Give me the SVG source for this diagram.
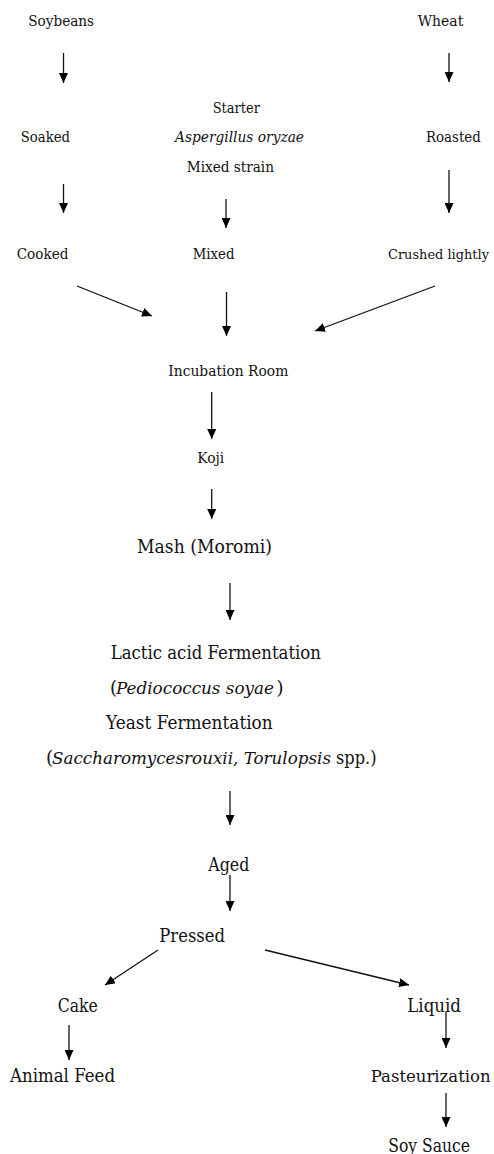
<svg xmlns="http://www.w3.org/2000/svg" width="494" height="1154" viewBox="0 0 494 1154">
<defs>
<marker id="ah" markerUnits="userSpaceOnUse" markerWidth="11" markerHeight="9" refX="10" refY="4.5" orient="auto">
<path d="M0,0 L10,4.5 L0,9 z" fill="#000"/>
</marker>
<style>
text{font-family:"DejaVu Serif","Liberation Serif",serif;fill:#111;text-anchor:start}
.s{font-size:15px}
.l{font-size:18px}
.i{font-style:italic}
.c line{stroke:#111;stroke-width:1.3;marker-end:url(#ah)}
</style>
</defs>
<rect width="494" height="1154" fill="#fff"/>
<g id="soybeans"><text class="s" x="28.3" y="25.5" textLength="65.7" lengthAdjust="spacingAndGlyphs">Soybeans</text></g>
<g id="wheat"><text class="s" x="417.7" y="25.5" textLength="45.6" lengthAdjust="spacingAndGlyphs">Wheat</text></g>
<g id="starter"><text class="s" x="212.7" y="112.5" textLength="47.3" lengthAdjust="spacingAndGlyphs">Starter</text>
<text class="s i" x="175" y="141.5" textLength="129" lengthAdjust="spacingAndGlyphs">Aspergillus oryzae</text>
<text class="s" x="186.7" y="171.5" textLength="87.3" lengthAdjust="spacingAndGlyphs">Mixed strain</text></g>
<g id="soaked"><text class="s" x="20.7" y="141.5" textLength="49.3" lengthAdjust="spacingAndGlyphs">Soaked</text></g>
<g id="roasted"><text class="s" x="426" y="141.5" textLength="54.7" lengthAdjust="spacingAndGlyphs">Roasted</text></g>
<g id="cooked"><text class="s" x="16.7" y="259.3" textLength="51.7" lengthAdjust="spacingAndGlyphs">Cooked</text></g>
<g id="mixed"><text class="s" x="192.7" y="259.3" textLength="41.7" lengthAdjust="spacingAndGlyphs">Mixed</text></g>
<g id="crushed"><text x="388" y="259.3" font-size="13" textLength="101" lengthAdjust="spacingAndGlyphs">Crushed lightly</text></g>
<g id="incubation"><text class="s" x="168.3" y="376" textLength="120" lengthAdjust="spacingAndGlyphs">Incubation Room</text></g>
<g id="koji"><text class="s" x="197.3" y="462.7" textLength="27" lengthAdjust="spacingAndGlyphs">Koji</text></g>
<g id="mash"><text class="l" x="137" y="553" textLength="135" lengthAdjust="spacingAndGlyphs">Mash (Moromi)</text></g>
<g id="fermentation">
<text class="l" x="110.7" y="659" textLength="210.3" lengthAdjust="spacingAndGlyphs">Lactic acid Fermentation</text>
<text class="l" x="110" y="694">(</text>
<text class="i" x="116" y="694" font-size="16" textLength="158" lengthAdjust="spacingAndGlyphs">Pediococcus soyae</text>
<text class="l" x="276.5" y="694">)</text>
<text class="l" x="106" y="729" textLength="166.7" lengthAdjust="spacingAndGlyphs">Yeast Fermentation</text>
<text class="l" x="46" y="763.5">(</text>
<text class="i" x="52" y="763.5" font-size="16" textLength="279" lengthAdjust="spacingAndGlyphs">Saccharomycesrouxii, Torulopsis</text>
<text class="l" x="336" y="763.5" textLength="40.5" lengthAdjust="spacingAndGlyphs">spp.)</text>
</g>
<g id="aged"><text class="l" x="208.3" y="871" textLength="41" lengthAdjust="spacingAndGlyphs">Aged</text></g>
<g id="pressed"><text class="l" x="159.3" y="941.5" textLength="65.7" lengthAdjust="spacingAndGlyphs">Pressed</text></g>
<g id="cake"><text class="l" x="57.7" y="1011.7" textLength="40" lengthAdjust="spacingAndGlyphs">Cake</text></g>
<g id="liquid"><text class="l" x="407.3" y="1011.7" textLength="53.7" lengthAdjust="spacingAndGlyphs">Liquid</text></g>
<g id="animalfeed"><text class="l" x="10" y="1081.7" textLength="105" lengthAdjust="spacingAndGlyphs">Animal Feed</text></g>
<g id="pasteurization"><text x="370.7" y="1081.7" font-size="16.5" textLength="120" lengthAdjust="spacingAndGlyphs">Pasteurization</text></g>
<g id="soysauce"><text class="l" x="388.3" y="1152" textLength="81.7" lengthAdjust="spacingAndGlyphs">Soy Sauce</text></g>
<g id="connectors" class="c">
<line x1="63.5" y1="53" x2="63.5" y2="83"/>
<line x1="449" y1="53" x2="449" y2="82"/>
<line x1="63.5" y1="184" x2="63.5" y2="213"/>
<line x1="226" y1="199" x2="226" y2="228"/>
<line x1="449" y1="170" x2="449" y2="213"/>
<line x1="77" y1="286" x2="152" y2="316"/>
<line x1="226.5" y1="292" x2="226.5" y2="336"/>
<line x1="435" y1="286" x2="315" y2="331"/>
<line x1="211.7" y1="392" x2="211.7" y2="439"/>
<line x1="211.7" y1="489" x2="211.7" y2="519"/>
<line x1="230" y1="583" x2="230" y2="620"/>
<line x1="230" y1="791" x2="230" y2="825"/>
<line x1="230" y1="875" x2="230" y2="911"/>
<line x1="158" y1="950" x2="105" y2="985"/>
<line x1="265" y1="950" x2="409" y2="985"/>
<line x1="69" y1="1025" x2="69" y2="1060"/>
<line x1="446" y1="1012" x2="446" y2="1048"/>
<line x1="446" y1="1093" x2="446" y2="1127"/>
</g>
</svg>
